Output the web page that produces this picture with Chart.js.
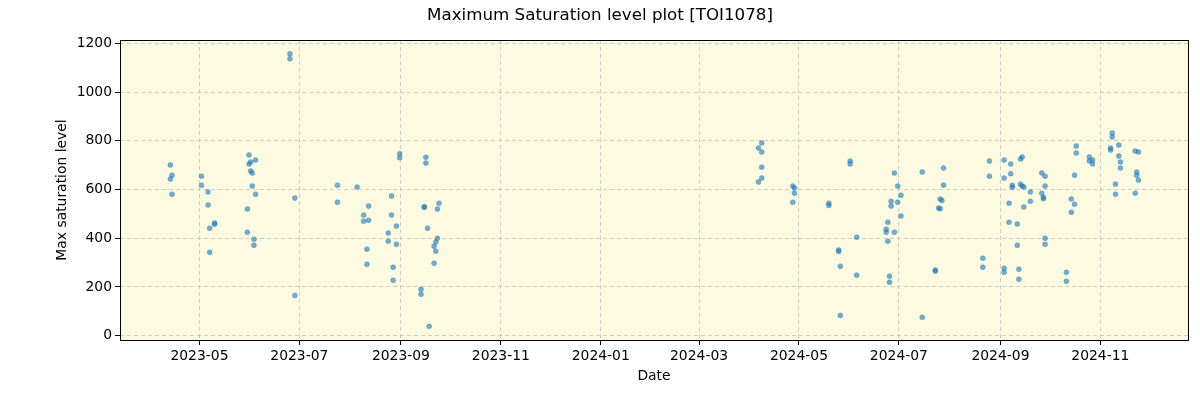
<!DOCTYPE html>
<html>
<head>
<meta charset="utf-8">
<title>Maximum Saturation level plot [TOI1078]</title>
<script src="https://cdn.jsdelivr.net/npm/chart.js@4/dist/chart.umd.min.js"></script>
<style>
html, body { margin: 0; padding: 0; background: #fff; }
</style>
</head>
<body>
<canvas id="chart" width="1200" height="400"></canvas>
<script>
const obsDates = [
  '2023-04-13', '2023-04-14', '2023-04-13', '2023-04-14',
  '2023-05-02', '2023-05-02', '2023-05-06', '2023-05-06', '2023-05-10', '2023-05-10', '2023-05-07', '2023-05-07',
  '2023-05-31', '2023-06-04', '2023-06-01', '2023-05-31', '2023-06-01', '2023-06-02', '2023-06-02', '2023-06-04',
  '2023-05-30', '2023-05-30', '2023-06-03', '2023-06-03',
  '2023-06-25', '2023-06-25', '2023-06-28', '2023-06-28',
  '2023-07-24', '2023-07-24', '2023-08-05', '2023-08-09', '2023-08-09', '2023-08-11', '2023-08-11', '2023-08-12', '2023-08-12',
  '2023-08-24', '2023-08-24', '2023-08-26', '2023-08-26', '2023-08-27', '2023-08-27', '2023-08-29', '2023-08-29',
  '2023-08-31', '2023-08-31',
  '2023-09-13', '2023-09-13', '2023-09-15', '2023-09-15', '2023-09-16', '2023-09-16', '2023-09-17', '2023-09-18',
  '2023-09-21', '2023-09-21', '2023-09-22', '2023-09-22', '2023-09-23', '2023-09-23', '2023-09-24',
  '2024-04-06', '2024-04-06', '2024-04-08', '2024-04-08', '2024-04-08', '2024-04-08',
  '2024-04-27', '2024-04-27', '2024-04-28', '2024-04-28',
  '2024-05-19', '2024-05-19', '2024-05-25', '2024-05-25', '2024-05-26', '2024-05-26',
  '2024-06-01', '2024-06-01', '2024-06-05', '2024-06-05',
  '2024-06-23', '2024-06-23', '2024-06-24', '2024-06-24', '2024-06-25', '2024-06-25', '2024-06-26', '2024-06-26',
  '2024-06-28', '2024-06-28', '2024-06-30', '2024-06-30', '2024-07-02', '2024-07-02',
  '2024-07-15', '2024-07-15', '2024-07-23', '2024-07-23', '2024-07-25', '2024-07-26', '2024-07-26', '2024-07-27',
  '2024-07-28', '2024-07-28',
  '2024-08-21', '2024-08-21', '2024-08-25', '2024-08-25',
  '2024-09-03', '2024-09-03', '2024-09-03', '2024-09-03', '2024-09-06', '2024-09-06', '2024-09-07', '2024-09-07',
  '2024-09-08', '2024-09-08', '2024-09-11', '2024-09-11', '2024-09-12', '2024-09-12', '2024-09-13', '2024-09-13',
  '2024-09-14', '2024-09-14', '2024-09-15', '2024-09-15', '2024-09-19', '2024-09-19',
  '2024-09-26', '2024-09-26', '2024-09-27', '2024-09-27', '2024-09-28', '2024-09-28', '2024-09-28', '2024-09-28',
  '2024-10-11', '2024-10-11', '2024-10-14', '2024-10-14', '2024-10-16', '2024-10-16', '2024-10-17', '2024-10-17',
  '2024-10-25', '2024-10-25', '2024-10-27', '2024-10-27',
  '2024-11-07', '2024-11-07', '2024-11-08', '2024-11-08', '2024-11-10', '2024-11-10', '2024-11-12', '2024-11-12',
  '2024-11-13', '2024-11-13', '2024-11-22', '2024-11-22', '2024-11-23', '2024-11-23', '2024-11-24', '2024-11-24'
];
const maxSaturation = [
  701, 659, 643, 581,
  655, 618, 590, 536, 463, 457, 441, 342,
  742, 721, 713, 705, 676, 668, 614, 581,
  520, 425, 396, 371,
  1158, 1137, 565, 165,
  618, 548, 610, 495, 470, 355, 293, 532, 474,
  421, 388, 573, 495, 281, 227, 450, 375,
  747, 731,
  190, 170, 530, 526, 733, 709, 441, 38,
  367, 297, 384, 347, 520, 400, 544,
  771, 631, 791, 692, 754, 647,
  614, 548, 606, 585,
  544, 534, 352, 346, 285, 83,
  717, 705, 404, 248,
  437, 425, 466, 388, 244, 219, 552, 532,
  668, 425, 614, 548, 577, 491,
  672, 75, 270, 264, 524, 561, 521, 555,
  688, 618,
  318, 281, 717, 655,
  277, 260, 721, 647, 544, 466, 705, 665,
  618, 609, 458, 371, 273, 231, 725, 622,
  734, 614, 610, 528, 590, 552,
  668, 585, 568, 562, 655, 614, 400, 375,
  260, 223, 561, 507, 659, 540, 779, 750,
  734, 717, 721, 705,
  771, 762, 832, 816, 622, 581, 783, 738,
  713, 688, 758, 585, 672, 659, 754, 639
];
const xTickLabels = ['2023-05', '2023-07', '2023-09', '2023-11', '2024-01', '2024-03', '2024-05', '2024-07', '2024-09', '2024-11'];
const yTickValues = [0, 200, 400, 600, 800, 1000, 1200];

const xMin = Date.parse('2023-03-13T12:00:00Z');
const xMax = Date.parse('2024-12-24T12:00:00Z');
const xTicks = xTickLabels.map(l => Date.parse(l + '-01T00:00:00Z'));
const points = obsDates.map((d, i) => ({ x: Date.parse(d + 'T06:00:00Z'), y: maxSaturation[i] }));

function monthLabel(v) {
  const d = new Date(v);
  return d.getUTCFullYear() + '-' + String(d.getUTCMonth() + 1).padStart(2, '0');
}

// cream plot background and black frame like the original
const plotFrame = {
  id: 'plotFrame',
  afterLayout(chart) {
    // centre the title on the whole canvas, not on the padded box
    if (chart.titleBlock) {
      chart.titleBlock.left = 0;
      chart.titleBlock.right = chart.width;
      chart.titleBlock.width = chart.width;
    }
  },
  beforeDraw(chart) {
    const { ctx, chartArea: a } = chart;
    ctx.save();
    ctx.fillStyle = '#ffffff';
    ctx.fillRect(0, 0, chart.width, chart.height);
    ctx.fillStyle = 'rgb(252,251,226)';
    ctx.fillRect(a.left, a.top, a.right - a.left, a.bottom - a.top);
    ctx.restore();
  },
  afterDraw(chart) {
    const { ctx, chartArea: a } = chart;
    ctx.save();
    ctx.strokeStyle = '#000';
    ctx.lineWidth = 1;
    ctx.strokeRect(Math.round(a.left) + 0.5, Math.round(a.top) + 0.5,
      Math.round(a.right - a.left), Math.round(a.bottom - a.top));
    ctx.restore();
  }
};

const tickFont = { family: 'DejaVu Sans', size: 13.9 };
const gridOpts = {
  color: 'rgba(176,176,176,0.6)',
  lineWidth: 1,
  tickColor: '#000',
  tickLength: 5,
  tickWidth: 1
};

new Chart(document.getElementById('chart'), {
  type: 'scatter',
  data: {
    datasets: [{
      label: 'Max saturation level',
      data: points,
      backgroundColor: 'rgba(31,119,180,0.6)',
      borderColor: 'rgba(31,119,180,0.6)',
      borderWidth: 0.5,
      pointRadius: 2.5
    }]
  },
  options: {
    responsive: false,
    devicePixelRatio: 1,
    animation: false,
    layout: { padding: { left: 0, right: 12, top: 0, bottom: 0 } },
    plugins: {
      legend: { display: false },
      tooltip: { enabled: false },
      title: {
        display: true,
        text: 'Maximum Saturation level plot [TOI1078]',
        color: '#000',
        font: { family: 'DejaVu Sans', size: 16.7, weight: 'normal' },
        padding: { top: 6, bottom: 14 }
      }
    },
    scales: {
      x: {
        type: 'linear',
        min: xMin,
        max: xMax,
        afterBuildTicks(scale) { scale.ticks = xTicks.map(v => ({ value: v })); },
        afterFit(scale) { scale.height = 60; },
        ticks: {
          autoSkip: false,
          maxRotation: 0,
          color: '#000',
          font: tickFont,
          padding: 3,
          callback: v => monthLabel(v)
        },
        grid: gridOpts,
        border: { display: false, dash: [4, 3] },
        title: {
          display: true,
          text: 'Date',
          color: '#000',
          font: tickFont,
          padding: { top: 0, bottom: 15 }
        }
      },
      y: {
        min: -18,
        max: 1214,
        afterBuildTicks(scale) { scale.ticks = yTickValues.map(v => ({ value: v })); },
        afterFit(scale) { scale.width = 120; },
        ticks: {
          color: '#000',
          font: tickFont,
          padding: 3,
          callback: v => String(v)
        },
        grid: gridOpts,
        border: { display: false, dash: [4, 3] },
        title: {
          display: true,
          text: 'Max saturation level',
          color: '#000',
          font: tickFont,
          padding: { top: 54, bottom: 0 }
        }
      }
    }
  },
  plugins: [plotFrame]
});
</script>
</body>
</html>
